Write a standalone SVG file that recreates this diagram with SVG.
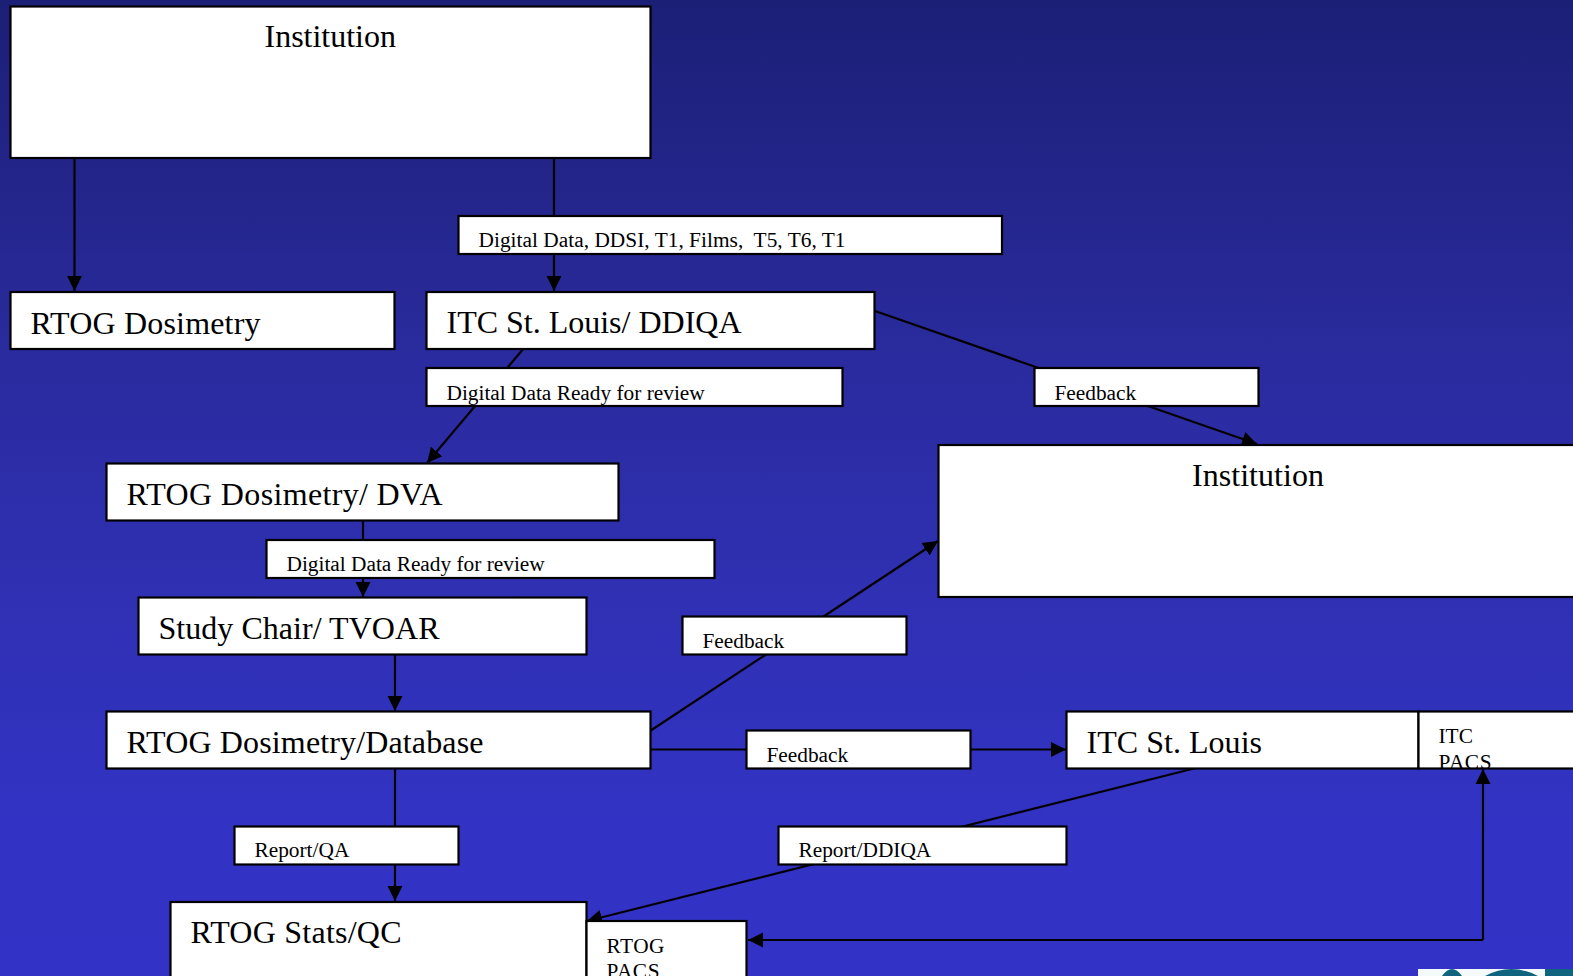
<svg xmlns="http://www.w3.org/2000/svg" width="1573" height="976" viewBox="0 0 1573 976">
<defs>
<linearGradient id="bg" x1="0" y1="0" x2="0" y2="1"><stop offset="0" stop-color="#1c1f76"/><stop offset="0.37" stop-color="#2a2b9e"/><stop offset="0.6" stop-color="#2f30b2"/><stop offset="0.85" stop-color="#3233c4"/><stop offset="1" stop-color="#3233c6"/></linearGradient>
<marker id="a" markerUnits="userSpaceOnUse" markerWidth="16" markerHeight="16" viewBox="0 0 16 16" refX="15" refY="8" orient="auto"><path d="M0 0.5L15 8L0 15.5Z" fill="#000"/></marker>
</defs>
<style>
.b{fill:#fff;stroke:#000;stroke-width:2.2}
.c{fill:none;stroke:#000;stroke-width:2.2}
.h{marker-end:url(#a)}
text{font-family:"Liberation Serif","Times New Roman",serif;fill:#000;white-space:pre}
.l{font-size:32px}.m{font-size:21.33px}
</style>
<rect width="1573" height="976" fill="url(#bg)"/>
<g id="photo-corner"><rect x="1418" y="969" width="155" height="7" fill="#f4fafa"/><path d="M1442 976Q1452 962 1462 976ZM1485 976Q1511 962 1538 976ZM1545 969H1573V976H1545Z" fill="#0f6480"/></g>
<g id="connectors">
<path class="c h" d="M74.500 158V291"/>
<path class="c h" d="M554 158V291"/>
<path class="c h" d="M524 348L427 463"/>
<path class="c h" d="M875 311L1257 444"/>
<path class="c h" d="M363 520V597"/>
<path class="c h" d="M395 654V711"/>
<path class="c h" d="M650 731L938 541"/>
<path class="c h" d="M650 749.500H1066"/>
<path class="c h" d="M395 768V901"/>
<path class="c h" d="M1200 767L587 921"/>
<path class="c h" d="M1483 940V769"/>
<path class="c h" d="M1483 940H748"/>
</g>
<g id="institution1"><rect class="b" x="10.500" y="6.500" width="640" height="151.500"/><text class="l" x="264.500" y="47" textLength="131.500">Institution</text></g>
<g id="label-digital-data"><rect class="b" x="458.500" y="216" width="543.500" height="38"/><text class="m" x="478.500" y="247" textLength="367">Digital Data, DDSI, T1, Films,  T5, T6, T1</text></g>
<g id="rtog-dosimetry"><rect class="b" x="10.500" y="292" width="384" height="57"/><text class="l" x="30.500" y="334" textLength="230">RTOG Dosimetry</text></g>
<g id="itc-ddiqa"><rect class="b" x="426.500" y="292" width="448" height="57"/><text class="l" x="446.500" y="333" textLength="295">ITC St. Louis/ DDIQA</text></g>
<g id="label-ready1"><rect class="b" x="426.500" y="368" width="416" height="38"/><text class="m" x="446.500" y="400">Digital Data Ready for review</text></g>
<g id="label-feedback1"><rect class="b" x="1034.500" y="368" width="224" height="38"/><text class="m" x="1054.500" y="400">Feedback</text></g>
<g id="institution2"><rect class="b" x="938.500" y="445" width="640" height="152"/><text class="l" x="1192" y="486" textLength="132">Institution</text></g>
<g id="rtog-dva"><rect class="b" x="106.500" y="463.500" width="512" height="57"/><text class="l" x="126.500" y="505" textLength="316">RTOG Dosimetry/ DVA</text></g>
<g id="label-ready2"><rect class="b" x="266.500" y="540" width="448" height="38"/><text class="m" x="286.500" y="571">Digital Data Ready for review</text></g>
<g id="study-chair"><rect class="b" x="138.500" y="597.500" width="448" height="57"/><text class="l" x="158.500" y="639" textLength="281">Study Chair/ TVOAR</text></g>
<g id="label-feedback2"><rect class="b" x="682.500" y="616.500" width="224" height="38"/><text class="m" x="702.500" y="648">Feedback</text></g>
<g id="rtog-database"><rect class="b" x="106.500" y="711.500" width="544" height="57"/><text class="l" x="126.500" y="753" textLength="357">RTOG Dosimetry/Database</text></g>
<g id="label-feedback3"><rect class="b" x="746.500" y="730.500" width="224" height="38"/><text class="m" x="766.500" y="762">Feedback</text></g>
<g id="itc-st-louis"><rect class="b" x="1066.500" y="711.500" width="352" height="57"/><text class="l" x="1086.500" y="753" textLength="175.500">ITC St. Louis</text></g>
<g id="itc-pacs"><rect class="b" x="1418.500" y="711.500" width="160" height="57"/><text class="m" x="1438.500" y="743">ITC</text><text class="m" x="1438.500" y="769" textLength="53">PACS</text></g>
<g id="label-report-qa"><rect class="b" x="234.500" y="826.500" width="224" height="38"/><text class="m" x="254.500" y="857">Report/QA</text></g>
<g id="label-report-ddiqa"><rect class="b" x="778.500" y="826.500" width="288" height="38"/><text class="m" x="798.500" y="857">Report/DDIQA</text></g>
<g id="rtog-stats"><rect class="b" x="170.500" y="902" width="416" height="90"/><text class="l" x="190.500" y="943" textLength="211">RTOG Stats/QC</text></g>
<g id="rtog-pacs"><rect class="b" x="586.500" y="921" width="160" height="70"/><text class="m" x="606.500" y="953" textLength="58">RTOG</text><text class="m" x="606.500" y="978" textLength="53">PACS</text></g>
</svg>
